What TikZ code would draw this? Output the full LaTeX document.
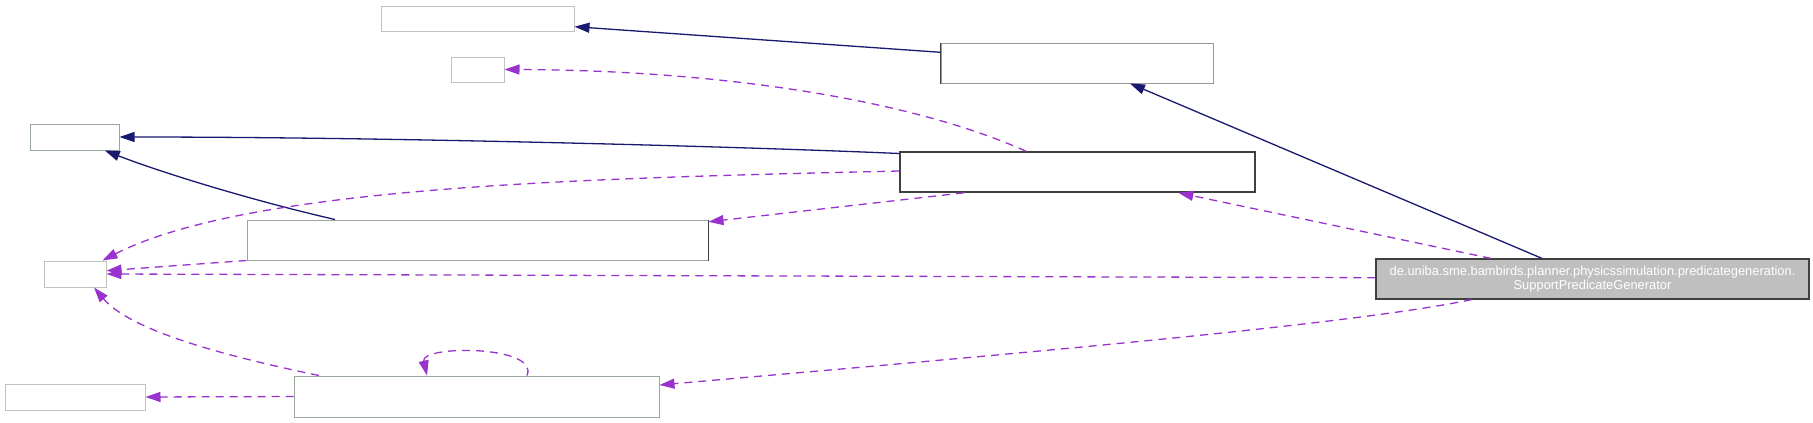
\documentclass[tikz,border=0pt]{standalone}
\usepackage{fontspec}
\setmainfont{Liberation Sans}
\usetikzlibrary{arrows.meta}
\definecolor{navy}{HTML}{191970}
\definecolor{orchid}{HTML}{9A32CD}
\definecolor{boxgray}{HTML}{BFC4BF}
\definecolor{boxgreen}{HTML}{98A898}
\definecolor{darkedge}{HTML}{404040}
\definecolor{mainfill}{HTML}{BFBFBF}
\begin{document}
\begin{tikzpicture}[x=1pt,y=-1pt,
  lbox/.style={draw=boxgray,line width=1pt,inner sep=0pt,fill=white},
  gbox/.style={draw=boxgreen,line width=1pt,inner sep=0pt,fill=white},
  dbox/.style={draw=darkedge,line width=1.6pt,inner sep=0pt,fill=white},
  mainbox/.style={draw=darkedge,line width=1.2pt,inner sep=0pt,fill=mainfill,
    text=white,align=center,font=\fontsize{12.9}{14.3}\selectfont},
  inh/.style={draw=navy,line width=1.3pt,-{Triangle[length=15pt,width=10pt]}},
  use/.style={draw=orchid,line width=1.3pt,dash pattern=on 8pt off 6pt,
    -{Triangle[length=15pt,width=10pt]}}]
\useasboundingbox (0,0) rectangle (1813,423);
% nodes
\node[lbox,minimum width=193,minimum height=25] (A) at (477.5,18.5) {};
\node[lbox,minimum width=53,minimum height=25] (B) at (477.5,69.5) {};
\node[lbox,draw=gray!80,minimum width=272,minimum height=40] (C) at (1077,63) {};
\node[gbox,minimum width=89,minimum height=26] (D) at (74.5,137) {};
\node[dbox,minimum width=355,minimum height=40] (E) at (1077.5,172) {};
\node[gbox,minimum width=461,minimum height=40] (F) at (477.5,240) {};
\node[lbox,minimum width=62,minimum height=26] (G) at (75,274) {};
\node[mainbox,minimum width=433,minimum height=40] (H) at (1592.5,279)
  {de.uniba.sme.bambirds.planner.physicssimulation.predicategeneration.\\SupportPredicateGenerator};
\node[gbox,minimum width=365,minimum height=41] (I) at (476.5,396.5) {};
\node[lbox,minimum width=140,minimum height=26] (J) at (75,397) {};
% dark edges
\draw[darkedge,line width=1.4pt] (C.north west) -- (C.south west);
\draw[darkedge,line width=1.4pt] (F.north east) -- (F.south east);
% inheritance edges
\draw[inh] ([yshift=10.7pt]C.west) -- ([yshift=-8.2pt]A.east);
\draw[inh] ([xshift=-50.5pt]H.north) -- ([xshift=53pt]C.south);
\draw[inh] ([yshift=-2.3pt]E.north west) .. controls (750,147) and (400,137) .. (D.east);
\draw[inh] ([xshift=-142.5pt]F.north) .. controls (250,200) and (160,172) .. ([xshift=30.3pt]D.south);
% usage edges
\draw[use] ([xshift=-51.5pt]E.north) .. controls (900,95) and (700,70) .. (B.east);
\draw[use] ([yshift=1pt]E.west) .. controls (600,178) and (250,185) .. ([xshift=-4pt]G.north east);
\draw[use] ([xshift=-113.5pt]E.south) -- ([yshift=-2.3pt]F.north east);
\draw[use] (F.south west) -- ([yshift=3.3pt]G.east);
\draw[use] ([xshift=-101.5pt]H.north) -- ([xshift=100.9pt]E.south);
\draw[use] ([yshift=1.3pt]H.west) -- (G.east);
\draw[use] ([xshift=-120.8pt]H.south) .. controls (1350,325) and (1000,355) .. ([yshift=11.5pt]I.east);
\draw[use] ([xshift=-157.5pt]I.north) .. controls (220,355) and (130,330) .. ([xshift=19pt]G.south);
\draw[use] ([xshift=50.5pt]I.north) .. controls (540,345) and (420,345) .. ([xshift=-49.5pt]I.north);
\draw[use] (I.west) -- (J.east);
\end{tikzpicture}
\end{document}
